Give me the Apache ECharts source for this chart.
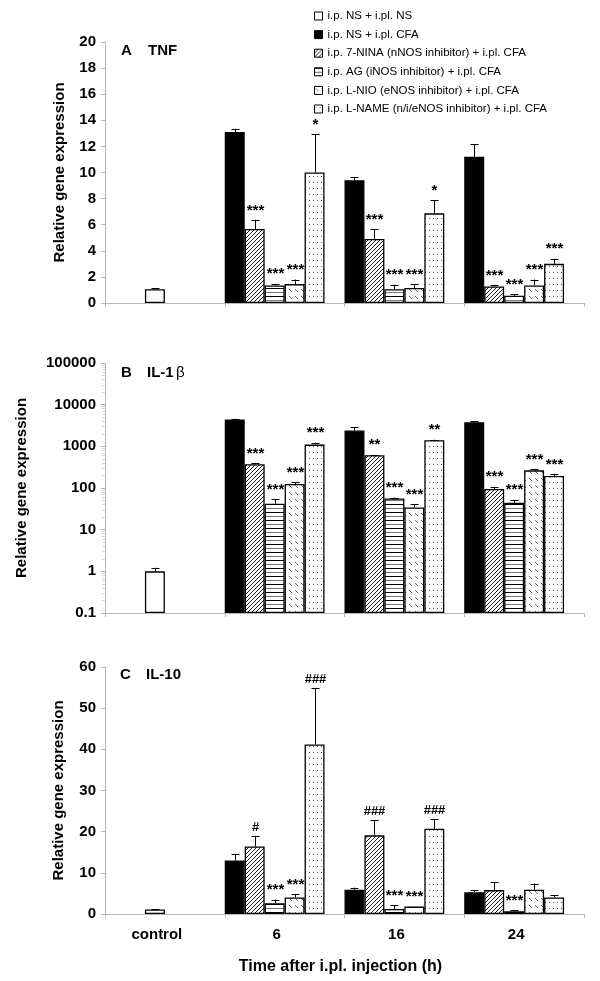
<!DOCTYPE html>
<html><head><meta charset="utf-8">
<script src="https://cdn.jsdelivr.net/npm/echarts@6/dist/echarts.min.js"></script>
<style>html,body{margin:0;padding:0;background:#fff}#c{width:600px;height:981px}</style>
</head><body><div id="c"></div>
<script>
// ---------- data ----------
const categories = ['control', '6', '16', '24'];
const seriesNames = [
  'i.p. NS + i.pl. NS',
  'i.p. NS + i.pl. CFA',
  'i.p. 7-NINA (nNOS inhibitor) + i.pl. CFA',
  'i.p. AG (iNOS inhibitor) + i.pl. CFA',
  'i.p. L-NIO (eNOS inhibitor) + i.pl. CFA',
  'i.p. L-NAME (n/i/eNOS inhibitor) + i.pl. CFA'
];
const yTicksA = [0, 2, 4, 6, 8, 10, 12, 14, 16, 18, 20];
const yTicksB = [0.1, 1, 10, 100, 1000, 10000, 100000];
const yTicksC = [0, 10, 20, 30, 40, 50, 60];

// TNF (panel A) — values for 6, 16, 24 h
const tnfControl = 1.05, tnfControlErr = 0.1;
const tnfCFA   = [13.1, 9.4, 11.2],  tnfCFAErr   = [0.25, 0.22, 0.95];
const tnfNINA  = [5.67, 4.9, 1.27],  tnfNINAErr  = [0.7, 0.75, 0.08];
const tnfAG    = [1.35, 1.05, 0.55], tnfAGErr    = [0.12, 0.35, 0.12];
const tnfNIO   = [1.45, 1.15, 1.35], tnfNIOErr   = [0.35, 0.3, 0.45];
const tnfNAME  = [10.0, 6.87, 3.0],  tnfNAMEErr  = [2.95, 1.0, 0.4];
const tnfSig = { NINA: ['***', '***', '***'], AG: ['***', '***', '***'], NIO: ['***', '***', '***'], NAME: ['*', '*', '***'] };

// IL-1β (panel B)
const il1Control = 1.0, il1ControlErr = 0.22;
const il1CFA  = [4400, 2400, 3800], il1CFAErr  = [200, 450, 200];
const il1NINA = [370, 610, 95],     il1NINAErr = [25, 15, 12];
const il1AG   = [42, 56, 44],       il1AGErr   = [11, 3, 8];
const il1NIO  = [125, 34, 265],     il1NIOErr  = [12, 7, 20];
const il1NAME = [1100, 1400, 195],  il1NAMEErr = [130, 40, 22];
const il1Sig = { NINA: ['***', '**', '***'], AG: ['***', '***', '***'], NIO: ['***', '***', '***'], NAME: ['***', '**', '***'] };

// IL-10 (panel C)
const il10Control = 1.1, il10ControlErr = 0.1;
const il10CFA  = [13.0, 5.9, 5.3],  il10CFAErr  = [1.6, 0.5, 0.5];
const il10NINA = [16.4, 19.1, 5.8], il10NINAErr = [2.5, 3.7, 1.9];
const il10AG   = [2.6, 1.2, 0.65],  il10AGErr   = [0.9, 0.9, 0.3];
const il10NIO  = [4.0, 1.8, 5.9],   il10NIOErr  = [0.8, 0, 1.5];
const il10NAME = [41.2, 20.7, 4.0], il10NAMEErr = [13.7, 2.4, 0.5];
const il10Sig = { CFA: ['', '', ''], NINA: ['#', '###', ''], AG: ['***', '***', '***'], NIO: ['***', '***', ''], NAME: ['###', '###', ''] };

// ---------- patterns ----------
function tile(w, h, draw) {
  const c = document.createElement('canvas'); c.width = w; c.height = h;
  const g = c.getContext('2d'); g.fillStyle = '#fff'; g.fillRect(0, 0, w, h); draw(g);
  return { image: c, repeat: 'repeat' };
}
const patNINA = tile(4, 4, g => { g.strokeStyle = '#000'; g.lineWidth = 0.9; g.beginPath();
  g.moveTo(-1, 5); g.lineTo(5, -1); g.moveTo(-1, 1); g.lineTo(1, -1); g.moveTo(3, 5); g.lineTo(5, 3); g.stroke(); });
const patAG = tile(4, 8, g => { g.fillStyle = '#000'; g.fillRect(0, 0, 4, 1); g.fillStyle = '#777'; g.fillRect(0, 4, 4, 1); });
const patNIO = tile(6, 7, g => { g.strokeStyle = '#666'; g.lineWidth = 1; g.beginPath(); g.moveTo(1, 2); g.lineTo(4, 5); g.stroke(); });
const patNAME = tile(4, 6, g => { g.fillStyle = '#555'; g.fillRect(1, 2, 1, 1); });
const fills = ['#fff', '#000', patNINA, patAG, patNIO, patNAME];

const FONT = 'Arial, "Liberation Sans", sans-serif';
const axisGray = '#b8b8b8';

// ---------- builders ----------
function barSeries(gi, ctrl, arrs) {
  // order of slots: CFA, NINA, AG, NIO, NAME, NS
  const out = [];
  const order = [1, 2, 3, 4, 5, 0];
  order.forEach((si, slot) => {
    let data;
    if (si === 0) data = [null, null, null, null];
    else data = [null].concat(arrs[si - 1]);
    if (si === 3) data[0] = { value: ctrl, itemStyle: { color: '#fff' } }; // control bar sits in this slot
    out.push({
      type: 'bar', name: seriesNames[si], xAxisIndex: gi, yAxisIndex: gi,
      data: data, barGap: '0%', barCategoryGap: '0%',
      itemStyle: { color: fills[si], borderColor: '#000', borderWidth: 1.3 },
      emphasis: { disabled: true }, silent: true, z: 2
    });
  });
  return out;
}
function errSeries(gi, ctrl, ctrlErr, arrs, errs, sigs) {
  const data = [[0, ctrl, ctrlErr, 2]];
  const labels = [''];
  const keys = ['CFA', 'NINA', 'AG', 'NIO', 'NAME'];
  for (let s = 0; s < 5; s++) {
    for (let j = 0; j < 3; j++) {
      data.push([j + 1, arrs[s][j], errs[s][j], s]);
      labels.push((sigs[keys[s]] || [])[j] || '');
    }
  }
  return {
    type: 'custom', xAxisIndex: gi, yAxisIndex: gi, z: 5, silent: true,
    encode: { x: 0, y: 1 }, data: data,
    renderItem: function (params, api) {
      const c = api.value(0), v = api.value(1), e = api.value(2), slot = api.value(3);
      const p0 = api.coord([c, v]);
      const band = api.coord([1, v])[0] - api.coord([0, v])[0];
      const x = Math.round(p0[0] - band / 2 + (slot + 0.5) * band / 6) + 0.5;
      const pt = api.coord([c, v + e]);
      const ch = [];
      if (e > 0) {
        ch.push({ type: 'line', shape: { x1: x, y1: p0[1], x2: x, y2: pt[1] }, style: { stroke: '#000', lineWidth: 1 } });
        ch.push({ type: 'line', shape: { x1: x - 4, y1: Math.round(pt[1]) + 0.5, x2: x + 4, y2: Math.round(pt[1]) + 0.5 }, style: { stroke: '#000', lineWidth: 1 } });
      }
      const lab = labels[params.dataIndex];
      if (lab) ch.push({ type: 'text', x: x, y: pt[1] - 2, style: {
        text: lab, fontSize: lab[0] === '#' ? 13 : 15, fontFamily: FONT, fontWeight: 'bold',
        align: 'center', verticalAlign: 'bottom', fill: '#000' } });
      return { type: 'group', children: ch };
    }
  };
}
function xAxis(gi, showLabels) {
  const ax = {
    type: 'category', gridIndex: gi, data: categories, boundaryGap: true,
    axisLine: { show: true, lineStyle: { color: axisGray } },
    axisTick: { show: true, length: 4, lineStyle: { color: axisGray } },
    axisLabel: { show: showLabels, fontSize: 15, fontWeight: 'bold', color: '#000', fontFamily: FONT, margin: 13, padding: [0, 16, 0, 0] },
    splitLine: { show: false }
  };
  if (showLabels) {
    ax.name = 'Time after i.pl. injection (h)'; ax.nameLocation = 'middle'; ax.nameGap = 45;
    ax.nameTextStyle = { fontSize: 16, fontWeight: 'bold', color: '#000', fontFamily: FONT, padding: [0, 8, 0, 0] };
  }
  return ax;
}
function yAxis(gi, opts) {
  return Object.assign({
    gridIndex: gi,
    axisLine: { show: true, lineStyle: { color: axisGray } },
    axisTick: { show: true, length: 4, lineStyle: { color: axisGray } },
    axisLabel: { fontSize: 15, fontWeight: 'bold', color: '#000', fontFamily: FONT, margin: 9 },
    splitLine: { show: false },
    name: 'Relative gene expression', nameLocation: 'middle',
    nameTextStyle: { fontSize: 15, fontWeight: 'bold', color: '#000', fontFamily: FONT }
  }, opts);
}

const arrsA = [tnfCFA, tnfNINA, tnfAG, tnfNIO, tnfNAME], errsA = [tnfCFAErr, tnfNINAErr, tnfAGErr, tnfNIOErr, tnfNAMEErr];
const arrsB = [il1CFA, il1NINA, il1AG, il1NIO, il1NAME], errsB = [il1CFAErr, il1NINAErr, il1AGErr, il1NIOErr, il1NAMEErr];
const arrsC = [il10CFA, il10NINA, il10AG, il10NIO, il10NAME], errsC = [il10CFAErr, il10NINAErr, il10AGErr, il10NIOErr, il10NAMEErr];

const chart = echarts.init(document.getElementById('c'), null, { renderer: 'canvas' });
const tStyle = (t, w) => ({ text: t, fontSize: 15, fontWeight: w || 'bold', fontFamily: FONT, fill: '#000' });
chart.setOption({
  animation: false,
  backgroundColor: '#fff',
  grid: [
    { left: 105, right: 16, top: 42, bottom: 678 },
    { left: 105, right: 16, top: 363, bottom: 368 },
    { left: 105, right: 16, top: 667, bottom: 67 }
  ],
  legend: {
    orient: 'vertical', left: 309, top: 5, itemWidth: 8, itemHeight: 8, itemGap: 6.6,
    icon: 'rect', selectedMode: false, data: seriesNames,
    textStyle: { fontSize: 11.5, fontFamily: FONT, color: '#000' },
    itemStyle: { borderColor: '#000', borderWidth: 1 }
  },
  xAxis: [xAxis(0, false), xAxis(1, false), xAxis(2, true)],
  yAxis: [
    yAxis(0, { type: 'value', min: yTicksA[0], max: yTicksA[yTicksA.length - 1], interval: 2, nameGap: 38 }),
    yAxis(1, { type: 'log', logBase: 10, min: yTicksB[0], max: yTicksB[yTicksB.length - 1], startValue: yTicksB[0], nameGap: 76,
      minorTick: { show: true, splitNumber: 9, length: 3, lineStyle: { color: '#d8d8d8' } },
      axisLabel: { fontSize: 15, fontWeight: 'bold', color: '#000', fontFamily: FONT, margin: 9,
        formatter: v => String(+(+v).toPrecision(6)) } }),
    yAxis(2, { type: 'value', min: yTicksC[0], max: yTicksC[yTicksC.length - 1], interval: 10, nameGap: 39 })
  ],
  graphic: [
    { type: 'text', left: 121, top: 43, style: tStyle('A') },
    { type: 'text', left: 148, top: 43, style: tStyle('TNF') },
    { type: 'text', left: 121, top: 365, style: tStyle('B') },
    { type: 'text', left: 147, top: 365, style: tStyle('IL-1') },
    { type: 'text', left: 176, top: 365, style: tStyle('β', 'normal') },
    { type: 'text', left: 120, top: 667, style: tStyle('C') },
    { type: 'text', left: 146, top: 667, style: tStyle('IL-10') }
  ],
  series: [].concat(
    barSeries(0, tnfControl, arrsA), [errSeries(0, tnfControl, tnfControlErr, arrsA, errsA, tnfSig)],
    barSeries(1, il1Control, arrsB), [errSeries(1, il1Control, il1ControlErr, arrsB, errsB, il1Sig)],
    barSeries(2, il10Control, arrsC), [errSeries(2, il10Control, il10ControlErr, arrsC, errsC, il10Sig)]
  )
});
</script></body></html>
